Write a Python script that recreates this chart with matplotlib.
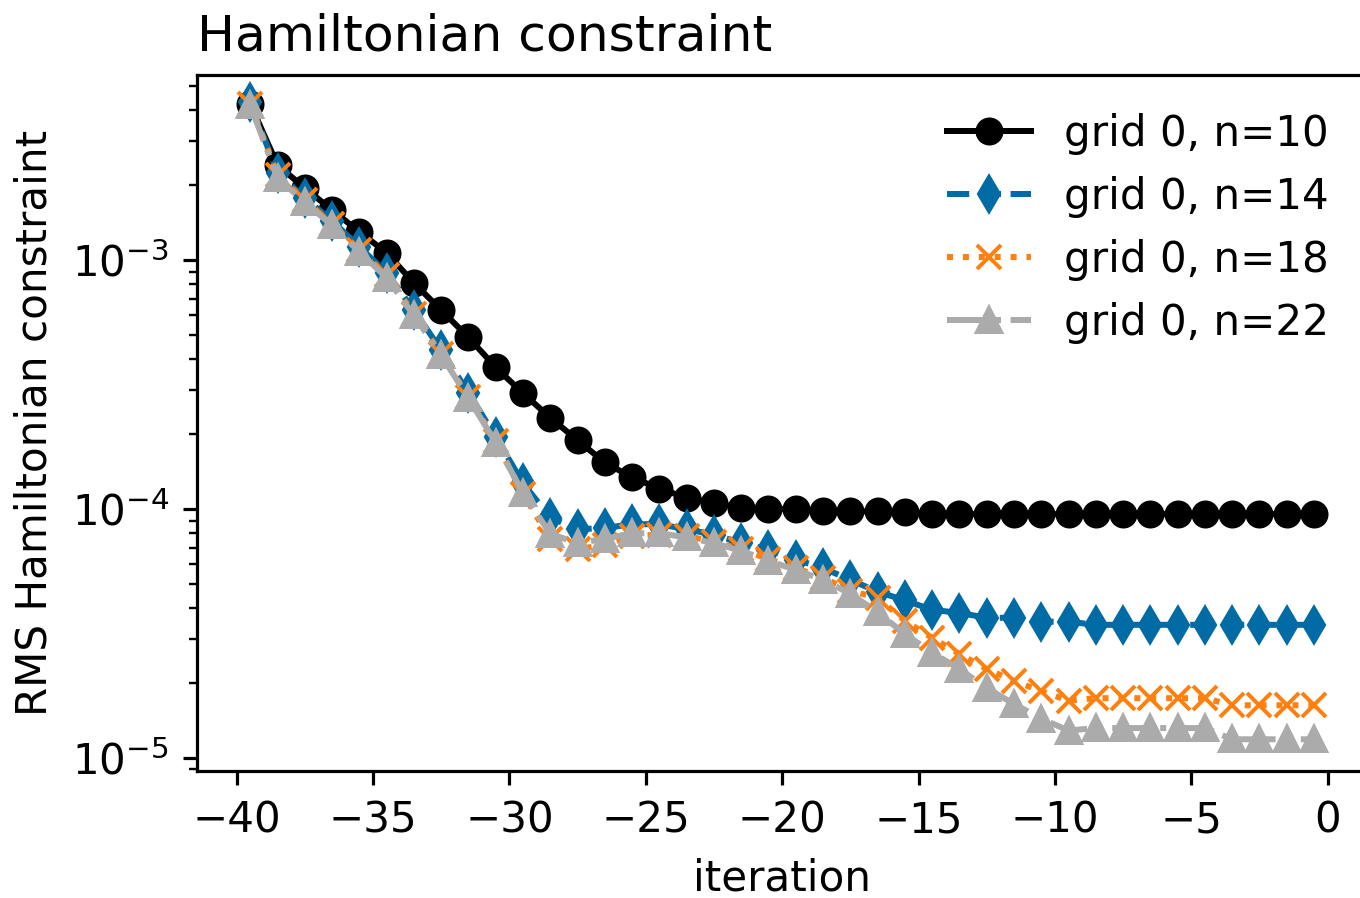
import numpy as np
import matplotlib
matplotlib.use("Agg")
import matplotlib.pyplot as plt
from matplotlib.ticker import MultipleLocator

# iteration axis (markers sit half-way between integers)
iteration = np.arange(-40, 0) + 0.5

labels = ["grid 0, n=10", "grid 0, n=14", "grid 0, n=18", "grid 0, n=22"]

rms_n10 = [4.25e-3, 2.41e-3, 1.95e-3, 1.59e-3, 1.30e-3, 1.07e-3, 8.1e-4, 6.3e-4,
           4.9e-4, 3.71e-4, 2.92e-4, 2.33e-4, 1.89e-4, 1.54e-4, 1.34e-4, 1.21e-4,
           1.11e-4, 1.06e-4, 1.01e-4, 1.00e-4, 1.00e-4, 9.8e-5, 9.8e-5, 9.8e-5,
           9.75e-5, 9.55e-5, 9.55e-5, 9.55e-5, 9.55e-5, 9.55e-5, 9.55e-5, 9.55e-5,
           9.55e-5, 9.55e-5, 9.55e-5, 9.55e-5, 9.55e-5, 9.55e-5, 9.55e-5, 9.55e-5]

rms_n14 = [4.33e-3, 2.24e-3, 1.78e-3, 1.44e-3, 1.13e-3, 8.9e-4, 6.3e-4, 4.35e-4,
           2.93e-4, 1.95e-4, 1.27e-4, 9.25e-5, 8.3e-5, 8.4e-5, 8.7e-5, 8.7e-5,
           8.3e-5, 7.9e-5, 7.3e-5, 6.87e-5, 6.27e-5, 5.8e-5, 5.2e-5, 4.66e-5,
           4.3e-5, 3.94e-5, 3.83e-5, 3.66e-5, 3.66e-5, 3.53e-5, 3.53e-5, 3.43e-5,
           3.43e-5, 3.43e-5, 3.43e-5, 3.43e-5, 3.43e-5, 3.43e-5, 3.43e-5, 3.43e-5]

rms_n18 = [4.25e-3, 2.2e-3, 1.74e-3, 1.40e-3, 1.10e-3, 8.7e-4, 6.1e-4, 4.2e-4,
           2.83e-4, 1.88e-4, 1.15e-4, 7.6e-5, 6.9e-5, 7.2e-5, 7.8e-5, 7.9e-5,
           7.8e-5, 7.4e-5, 6.9e-5, 6.3e-5, 5.8e-5, 5.3e-5, 4.7e-5, 4.4e-5,
           3.56e-5, 3.04e-5, 2.62e-5, 2.28e-5, 2.04e-5, 1.86e-5, 1.70e-5, 1.74e-5,
           1.74e-5, 1.74e-5, 1.74e-5, 1.74e-5, 1.63e-5, 1.63e-5, 1.63e-5, 1.63e-5]

rms_n22 = [4.2e-3, 2.14e-3, 1.71e-3, 1.38e-3, 1.08e-3, 8.5e-4, 6.0e-4, 4.15e-4,
           2.79e-4, 1.85e-4, 1.16e-4, 7.96e-5, 7.3e-5, 7.6e-5, 8.0e-5, 8.0e-5,
           7.7e-5, 7.3e-5, 6.8e-5, 6.2e-5, 5.7e-5, 5.2e-5, 4.57e-5, 3.85e-5,
           3.15e-5, 2.65e-5, 2.28e-5, 1.91e-5, 1.65e-5, 1.44e-5, 1.29e-5, 1.32e-5,
           1.32e-5, 1.32e-5, 1.32e-5, 1.32e-5, 1.19e-5, 1.19e-5, 1.19e-5, 1.19e-5]

# text in the reference is a touch larger than the defaults
plt.rcParams["font.size"] = 10.5

# figure looks like a 72 dpi plot blown up 4x -> use 288 dpi
dpi = 288
fig = plt.figure(figsize=(1360 / dpi, 898 / dpi), dpi=dpi)
ax = fig.add_axes([0.1449, 0.1414, 0.8604, 0.7751])  # right edge runs off the figure

ax.plot(iteration, rms_n10, color="black", linestyle="-", marker="o", label=labels[0])
ax.plot(iteration, rms_n14, color="#006BA4", linestyle="--", marker="d", label=labels[1])
ax.plot(iteration, rms_n18, color="#FF800E", linestyle=":", marker="x", label=labels[2])
ax.plot(iteration, rms_n22, color="#ABABAB", linestyle="-.", marker="^", label=labels[3])

ax.set_yscale("log")
ax.set_xlim(-41.45, 1.45)
ax.set_ylim(10 ** -5.052, 10 ** -2.256)
ax.xaxis.set_major_locator(MultipleLocator(5))

ax.set_xlabel("iteration")
ax.set_ylabel("RMS Hamiltonian constraint")
ax.set_title("Hamiltonian constraint", loc="left")
ax.legend(loc="upper right", frameon=False)

fig.savefig("out.png", dpi=dpi)
